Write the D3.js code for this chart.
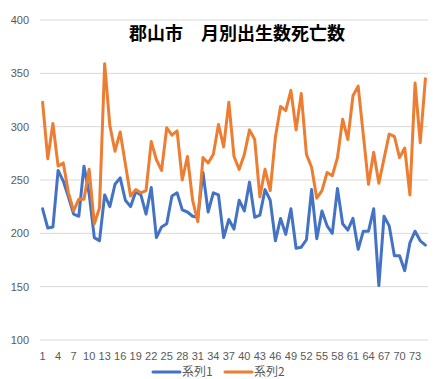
<!DOCTYPE html>
<html><head><meta charset="utf-8">
<script src="https://cdn.jsdelivr.net/npm/d3@7"></script>
<style>html,body{margin:0;padding:0;background:#fff;}svg{display:block;}</style>
</head><body><div id="chart"></div>
<script>
const title = "郡山市　月別出生数死亡数";
const seriesNames = ["系列1", "系列2"];
const series1 = [223,205,206,259,249,234,218,216,263,237,196,193,236,225,246,252,231,225,239,236,218,243,196,206,209,235,238,222,220,216,215,257,220,238,236,196,213,204,231,221,248,215,217,241,231,193,214,199,223,186,187,194,241,195,221,207,200,242,209,203,214,185,202,202,223,151,216,207,179,179,165,191,202,193,189];
const series2 = [323,270,303,263,266,238,221,232,232,260,209,224,359,301,277,295,265,235,241,238,240,286,269,259,299,292,296,250,272,231,211,271,266,274,302,281,323,272,260,274,297,288,234,260,240,290,319,315,334,297,331,274,262,233,240,257,254,271,307,288,329,338,292,246,276,247,270,293,291,271,280,236,341,285,345];
const yTicks = [100,150,200,250,300,350,400];
const categories = d3.range(1, series1.length + 1);

const W = 439, H = 379;
const svg = d3.select("#chart").append("svg").attr("width", W).attr("height", H);
const x = d3.scaleBand().domain(categories).range([40, 428]);
const y = d3.scaleLinear().domain([100, 400]).range([340, 20]);
const font = "'Liberation Sans', 'Noto Sans CJK JP', sans-serif";

svg.append("g").selectAll("line").data(yTicks).join("line")
  .attr("x1", 40).attr("x2", 428)
  .attr("y1", d => y(d)).attr("y2", d => y(d))
  .attr("stroke", "#D9D9D9").attr("stroke-width", 1);

svg.append("g").selectAll("text").data(yTicks).join("text")
  .attr("x", 29).attr("y", d => y(d) + 4)
  .attr("text-anchor", "end").attr("font-family", font).attr("font-size", 11)
  .attr("fill", "#595959").text(d => d);

svg.append("g").selectAll("text").data(categories.filter((d, i) => i % 3 === 0)).join("text")
  .attr("x", d => x(d) + x.bandwidth() / 2).attr("y", 360)
  .attr("text-anchor", "middle").attr("font-family", font).attr("font-size", 11)
  .attr("fill", "#595959").text(d => d);

const line = d3.line().x((d, i) => x(categories[i]) + x.bandwidth() / 2).y(d => y(d));
const colors = ["#4472C4", "#ED7D31"];
[series1, series2].forEach((s, k) => {
  svg.append("path").datum(s).attr("d", line).attr("fill", "none")
    .attr("stroke", colors[k]).attr("stroke-width", 3)
    .attr("stroke-linejoin", "round").attr("stroke-linecap", "round");
});

svg.append("text").attr("x", 237).attr("y", 40).attr("text-anchor", "middle")
  .attr("font-family", "'Noto Sans CJK JP', sans-serif").attr("font-size", 18)
  .attr("font-weight", "bold").attr("fill", "#000").text(title);

const legX = [153, 225];
seriesNames.forEach((n, k) => {
  svg.append("line").attr("x1", legX[k]).attr("x2", legX[k] + 27)
    .attr("y1", 372).attr("y2", 372).attr("stroke", colors[k]).attr("stroke-width", 3)
    .attr("stroke-linecap", "round");
  svg.append("text").attr("x", legX[k] + 29).attr("y", 376)
    .attr("font-family", "'Noto Sans CJK JP', sans-serif").attr("font-size", 12)
    .attr("fill", "#595959").text(n);
});
</script></body></html>
